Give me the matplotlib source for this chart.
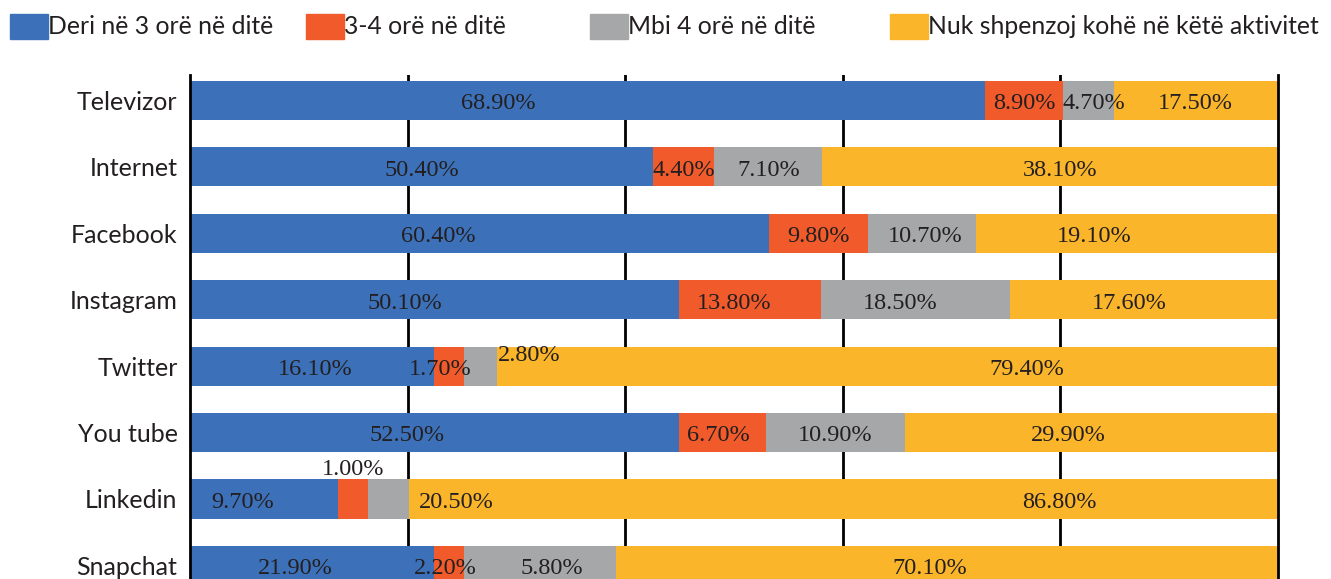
import matplotlib.pyplot as plt
from matplotlib.patches import Rectangle

categories = ["Televizor", "Internet", "Facebook", "Instagram", "Twitter",
              "You tube", "Linkedin", "Snapchat"]
series = ["Deri në 3 orë në ditë", "3-4 orë në ditë", "Mbi 4 orë në ditë",
          "Nuk shpenzoj kohë në këtë aktivitet"]

# segment lengths as drawn (the printed labels do not match them)
up_to_3 = [73.1, 42.6, 53.2, 44.9, 22.4, 44.9, 13.6, 22.4]
h3_4 = [7.1, 5.6, 9.1, 13.1, 2.8, 8.0, 2.8, 2.8]
over_4 = [4.7, 9.9, 9.9, 17.4, 3.0, 12.8, 3.7, 14.0]
no_time = [15.1, 41.9, 27.8, 24.6, 71.8, 34.3, 79.9, 60.8]

# printed labels
lab_up_to_3 = ["68.90%", "50.40%", "60.40%", "50.10%", "16.10%", "52.50%", "9.70%", "21.90%"]
lab_3_4 = ["8.90%", "4.40%", "9.80%", "13.80%", "1.70%", "6.70%", "1.00%", "2.20%"]
lab_over_4 = ["4.70%", "7.10%", "10.70%", "18.50%", "2.80%", "10.90%", "20.50%", "5.80%"]
lab_no_time = ["17.50%", "38.10%", "19.10%", "17.60%", "79.40%", "29.90%", "86.80%", "70.10%"]

colors = ["#3c71b9", "#f15a2a", "#a5a7a8", "#fbb52a"]
txt_col = "#231f20"

# label nudges (x in %, y in bar units)
shift_x = [
    [-8.2, 0, -3.8, -2.7, 0.3, -2.5, -2.0, -1.5],
    [0, 0, 0, -1.4, -0.8, -0.3, 0, -0.3],
    [0.5, 0, 0.3, -1.4, 4.5, 0, 6.2, 1.1],
    [0, 0.9, -3.0, -1.4, 12.8, -2.1, 19.9, -1.6],
]
shift_y = [[0.05] * 8 for _ in range(4)]
shift_y[2][4] = -0.16
shift_y[1][6] = -0.44

fig = plt.figure(figsize=(13.31, 5.79), dpi=100)
ax = fig.add_axes([190 / 1331, 0, 1088 / 1331, (579 - 75) / 579])

values = [up_to_3, h3_4, over_4, no_time]
labels = [lab_up_to_3, lab_3_4, lab_over_4, lab_no_time]
y = list(range(len(categories)))
left = [0.0] * len(categories)
for k in range(4):
    ax.barh(y, values[k], left=left, height=0.59, color=colors[k], zorder=2)
    for i in range(len(categories)):
        cx = left[i] + values[k][i] / 2 + shift_x[k][i]
        ax.text(cx, i + shift_y[k][i], labels[k][i], ha="center", va="center",
                fontsize=17.5, family="Liberation Serif", color=txt_col, zorder=3)
    left = [left[i] + values[k][i] for i in range(len(categories))]

ax.set_xlim(0, 100)
ax.set_ylim(7.206, -0.384)
ax.set_xticks([20, 40, 60, 80])
ax.xaxis.grid(True, color="black", linewidth=2)
ax.tick_params(axis="x", length=0, labelbottom=False)
ax.tick_params(axis="y", length=0, pad=9)
ax.set_yticks(y)
ax.set_yticklabels(categories, fontsize=18, family="Lato", color=txt_col)
for s in ["top", "bottom"]:
    ax.spines[s].set_visible(False)
for s in ["left", "right"]:
    ax.spines[s].set_linewidth(2)

# legend at the top
leg_x = [10, 306, 590, 890]
for k in range(4):
    fig.patches.append(Rectangle((leg_x[k] / 1331, 1 - 39 / 579), 38 / 1331, 25 / 579,
                                 transform=fig.transFigure, color=colors[k]))
    fig.text((leg_x[k] + 38) / 1331, 1 - 27 / 579, series[k], ha="left", va="center",
             fontsize=17.8, family="Lato", color=txt_col)

fig.savefig("out.png", dpi=100)
